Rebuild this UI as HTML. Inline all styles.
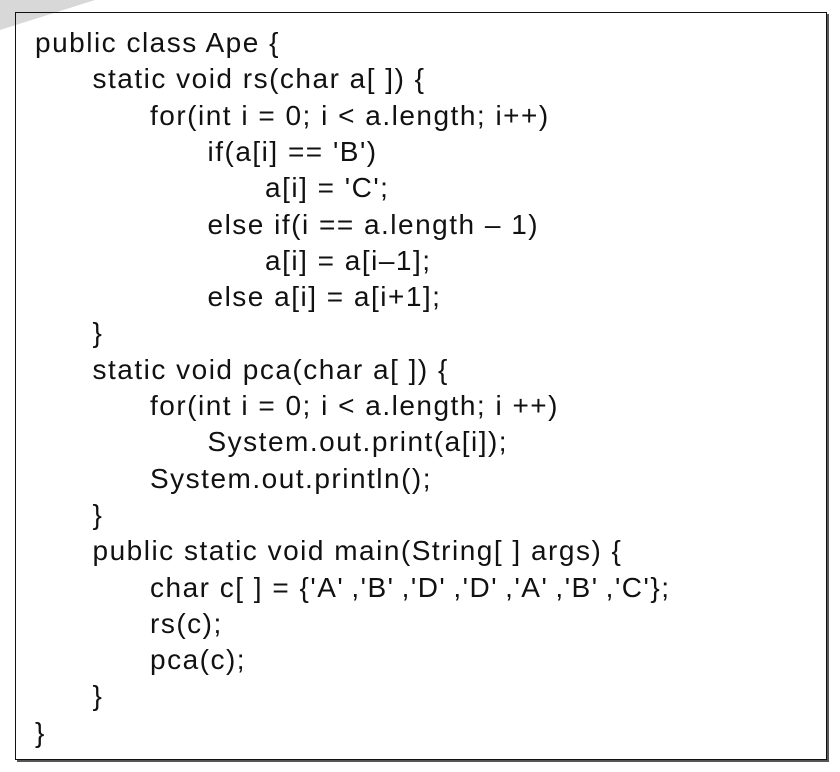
<!DOCTYPE html>
<html><head><meta charset="utf-8"><style>
html,body{margin:0;padding:0;background:#fff;}
body{width:840px;height:772px;position:relative;overflow:hidden;font-family:"Liberation Sans","Noto Sans CJK KR",sans-serif;}
.box{position:absolute;left:15px;top:12px;width:810px;height:746px;border:1.5px solid #111;box-shadow:2px 2px 0 #555;}
.l{position:absolute;font-size:28px;line-height:28px;color:#111;white-space:pre;letter-spacing:1.5px;}
</style></head><body>
<svg style="position:absolute;left:0;top:0" width="120" height="40"><polygon points="0,0 95,0 0,30" fill="#d8d8d8"/></svg>
<div class="box"></div>
<div id="code"></div>
<script>
const lines=[
[0,"public class Ape {"],
[1,"static void rs(char a[ ]) {"],
[2,"for(int i = 0; i < a.length; i++)"],
[3,"if(a[i] == 'B')"],
[4,"a[i] = 'C';"],
[3,"else if(i == a.length \u2013 1)"],
[4,"a[i] = a[i\u20131];"],
[3,"else a[i] = a[i+1];"],
[1,"}"],
[1,"static void pca(char a[ ]) {"],
[2,"for(int i = 0; i < a.length; i ++)"],
[3,"System.out.print(a[i]);"],
[2,"System.out.println();"],
[1,"}"],
[1,"public static void main(String[ ] args) {"],
[2,"char c[ ] = {'A'\u2009,'B'\u2009,'D'\u2009,'D'\u2009,'A'\u2009,'B'\u2009,'C'};"],
[2,"rs(c);"],
[2,"pca(c);"],
[1,"}"],
[0,"}"]];
const c=document.getElementById('code');
lines.forEach((ln,i)=>{
const d=document.createElement('div');


d.className='l';
d.style.left=(35+ln[0]*57.5)+'px';
d.style.top=(29+i*36.3)+'px';
d.textContent=ln[1];
c.appendChild(d);
});
</script>
</body></html>
